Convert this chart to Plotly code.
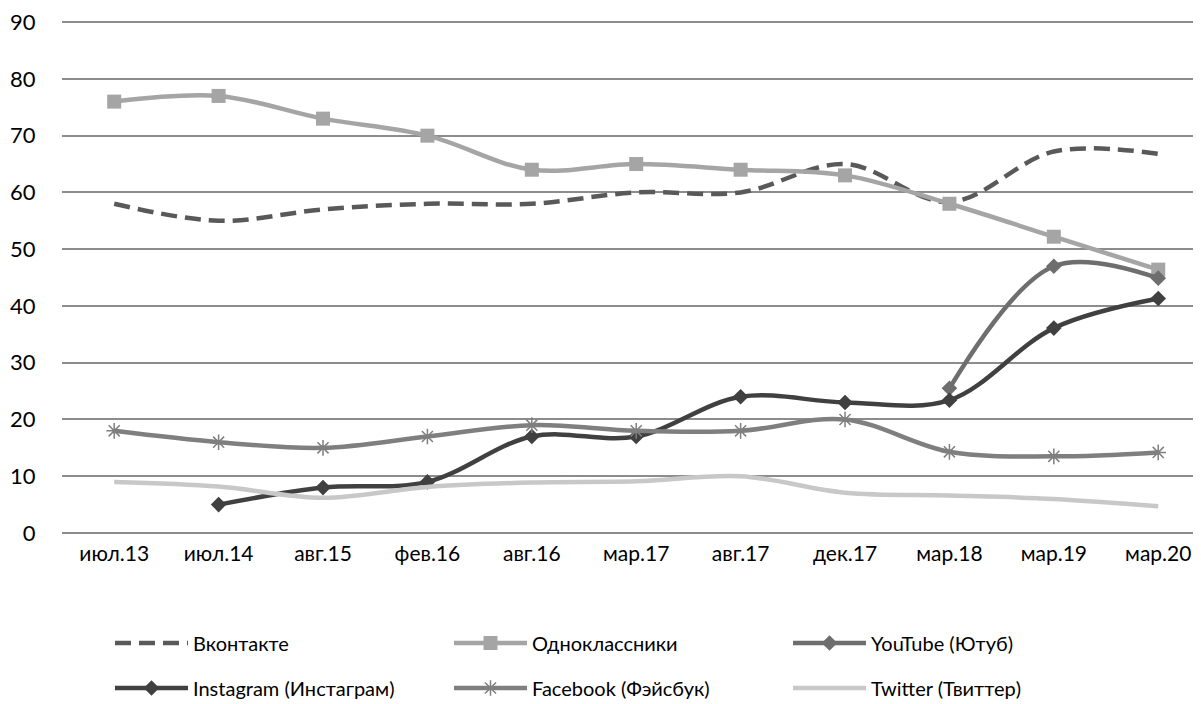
import plotly.graph_objects as go

categories = ["июл.13", "июл.14", "авг.15", "фев.16", "авг.16", "мар.17",
              "авг.17", "дек.17", "мар.18", "мар.19", "мар.20"]
y_ticks = [0, 10, 20, 30, 40, 50, 60, 70, 80, 90]

vkontakte = [58, 55, 57, 58, 58, 60, 60, 65, 58.3, 67.2, 66.8]
odnoklassniki = [76, 77, 73, 70, 64, 65, 64, 63, 58, 52.2, 46.4]
youtube = [None, None, None, None, None, None, None, None, 25.5, 47, 44.9]
instagram = [None, 5, 8, 9, 17, 17, 24, 23, 23.4, 36.1, 41.3]
facebook = [18, 16, 15, 17, 19, 18, 18, 20, 14.3, 13.5, 14.2]
twitter = [9, 8.2, 6.2, 8.1, 8.9, 9.1, 10, 7.1, 6.6, 6.0, 4.7]

FONT = "Lato"
W, H = 1193, 696  # page body adds an 8px offset

fig = go.Figure()

def add(name, y, color, width=4.5, dash=None, symbol=None, msize=10, legend="legend", mline=None):
    mode = "lines+markers" if symbol else "lines"
    marker = None
    if symbol:
        marker = dict(symbol=symbol, size=msize, color=color)
        if mline:
            marker["line"] = mline
    fig.add_trace(go.Scatter(
        x=categories, y=y, name=name, mode=mode,
        line=dict(color=color, width=width, shape="spline", smoothing=1.0, dash=dash),
        marker=marker, legend=legend, connectgaps=False,
    ))

add("Вконтакте", vkontakte, "#595959", dash="16px,8px")
add("Одноклассники", odnoklassniki, "#a5a5a5", symbol="square", msize=14)
add("YouTube (Ютуб)", youtube, "#6e6e6e", symbol="diamond", msize=12)
add("Instagram (Инстаграм)", instagram, "#404040", symbol="diamond", msize=12, legend="legend2")
add("Facebook (Фэйсбук)", facebook, "#7f7f7f", symbol="asterisk-open", msize=13,
    legend="legend2", mline=dict(color="#7f7f7f", width=1.5))
add("Twitter (Твиттер)", twitter, "#c8c8c8", legend="legend2")

legend_common = dict(
    orientation="h", xref="container", yref="container",
    xanchor="left", yanchor="middle",
    entrywidth=251, entrywidthmode="pixels",
    itemwidth=73,
    font=dict(family=FONT, size=20, color="#000000"),
    bgcolor="rgba(0,0,0,0)", traceorder="normal",
)

fig.update_layout(
    width=W, height=H,
    margin=dict(l=54, r=1, t=13, b=171, autoexpand=False),
    paper_bgcolor="white", plot_bgcolor="white",
    font=dict(family=FONT, size=21, color="#000000"),
    showlegend=True,
    legend=dict(**legend_common, x=102 / W, y=1 - 635 / H),
    legend2=dict(**legend_common, x=102 / W, y=1 - 680 / H),
    xaxis=dict(
        type="category", range=[-0.5, 10.4], automargin=False,
        showgrid=False, showline=False, zeroline=False,
        ticks="outside", ticklen=2, tickcolor="rgba(0,0,0,0)",
        tickfont=dict(family=FONT, size=21, color="#000000"),
    ),
    yaxis=dict(
        range=[0, 90.2], tickvals=y_ticks, automargin=False,
        ticklabeloverflow="allow",
        showgrid=True, gridcolor="#8c8c8c", gridwidth=1.5,
        zeroline=True, zerolinecolor="#8c8c8c", zerolinewidth=1.5,
        showline=False,
        ticks="outside", ticklen=21, tickcolor="rgba(0,0,0,0)",
        tickfont=dict(family=FONT, size=22, color="#000000"),
    ),
)

fig.write_html("out.html")
